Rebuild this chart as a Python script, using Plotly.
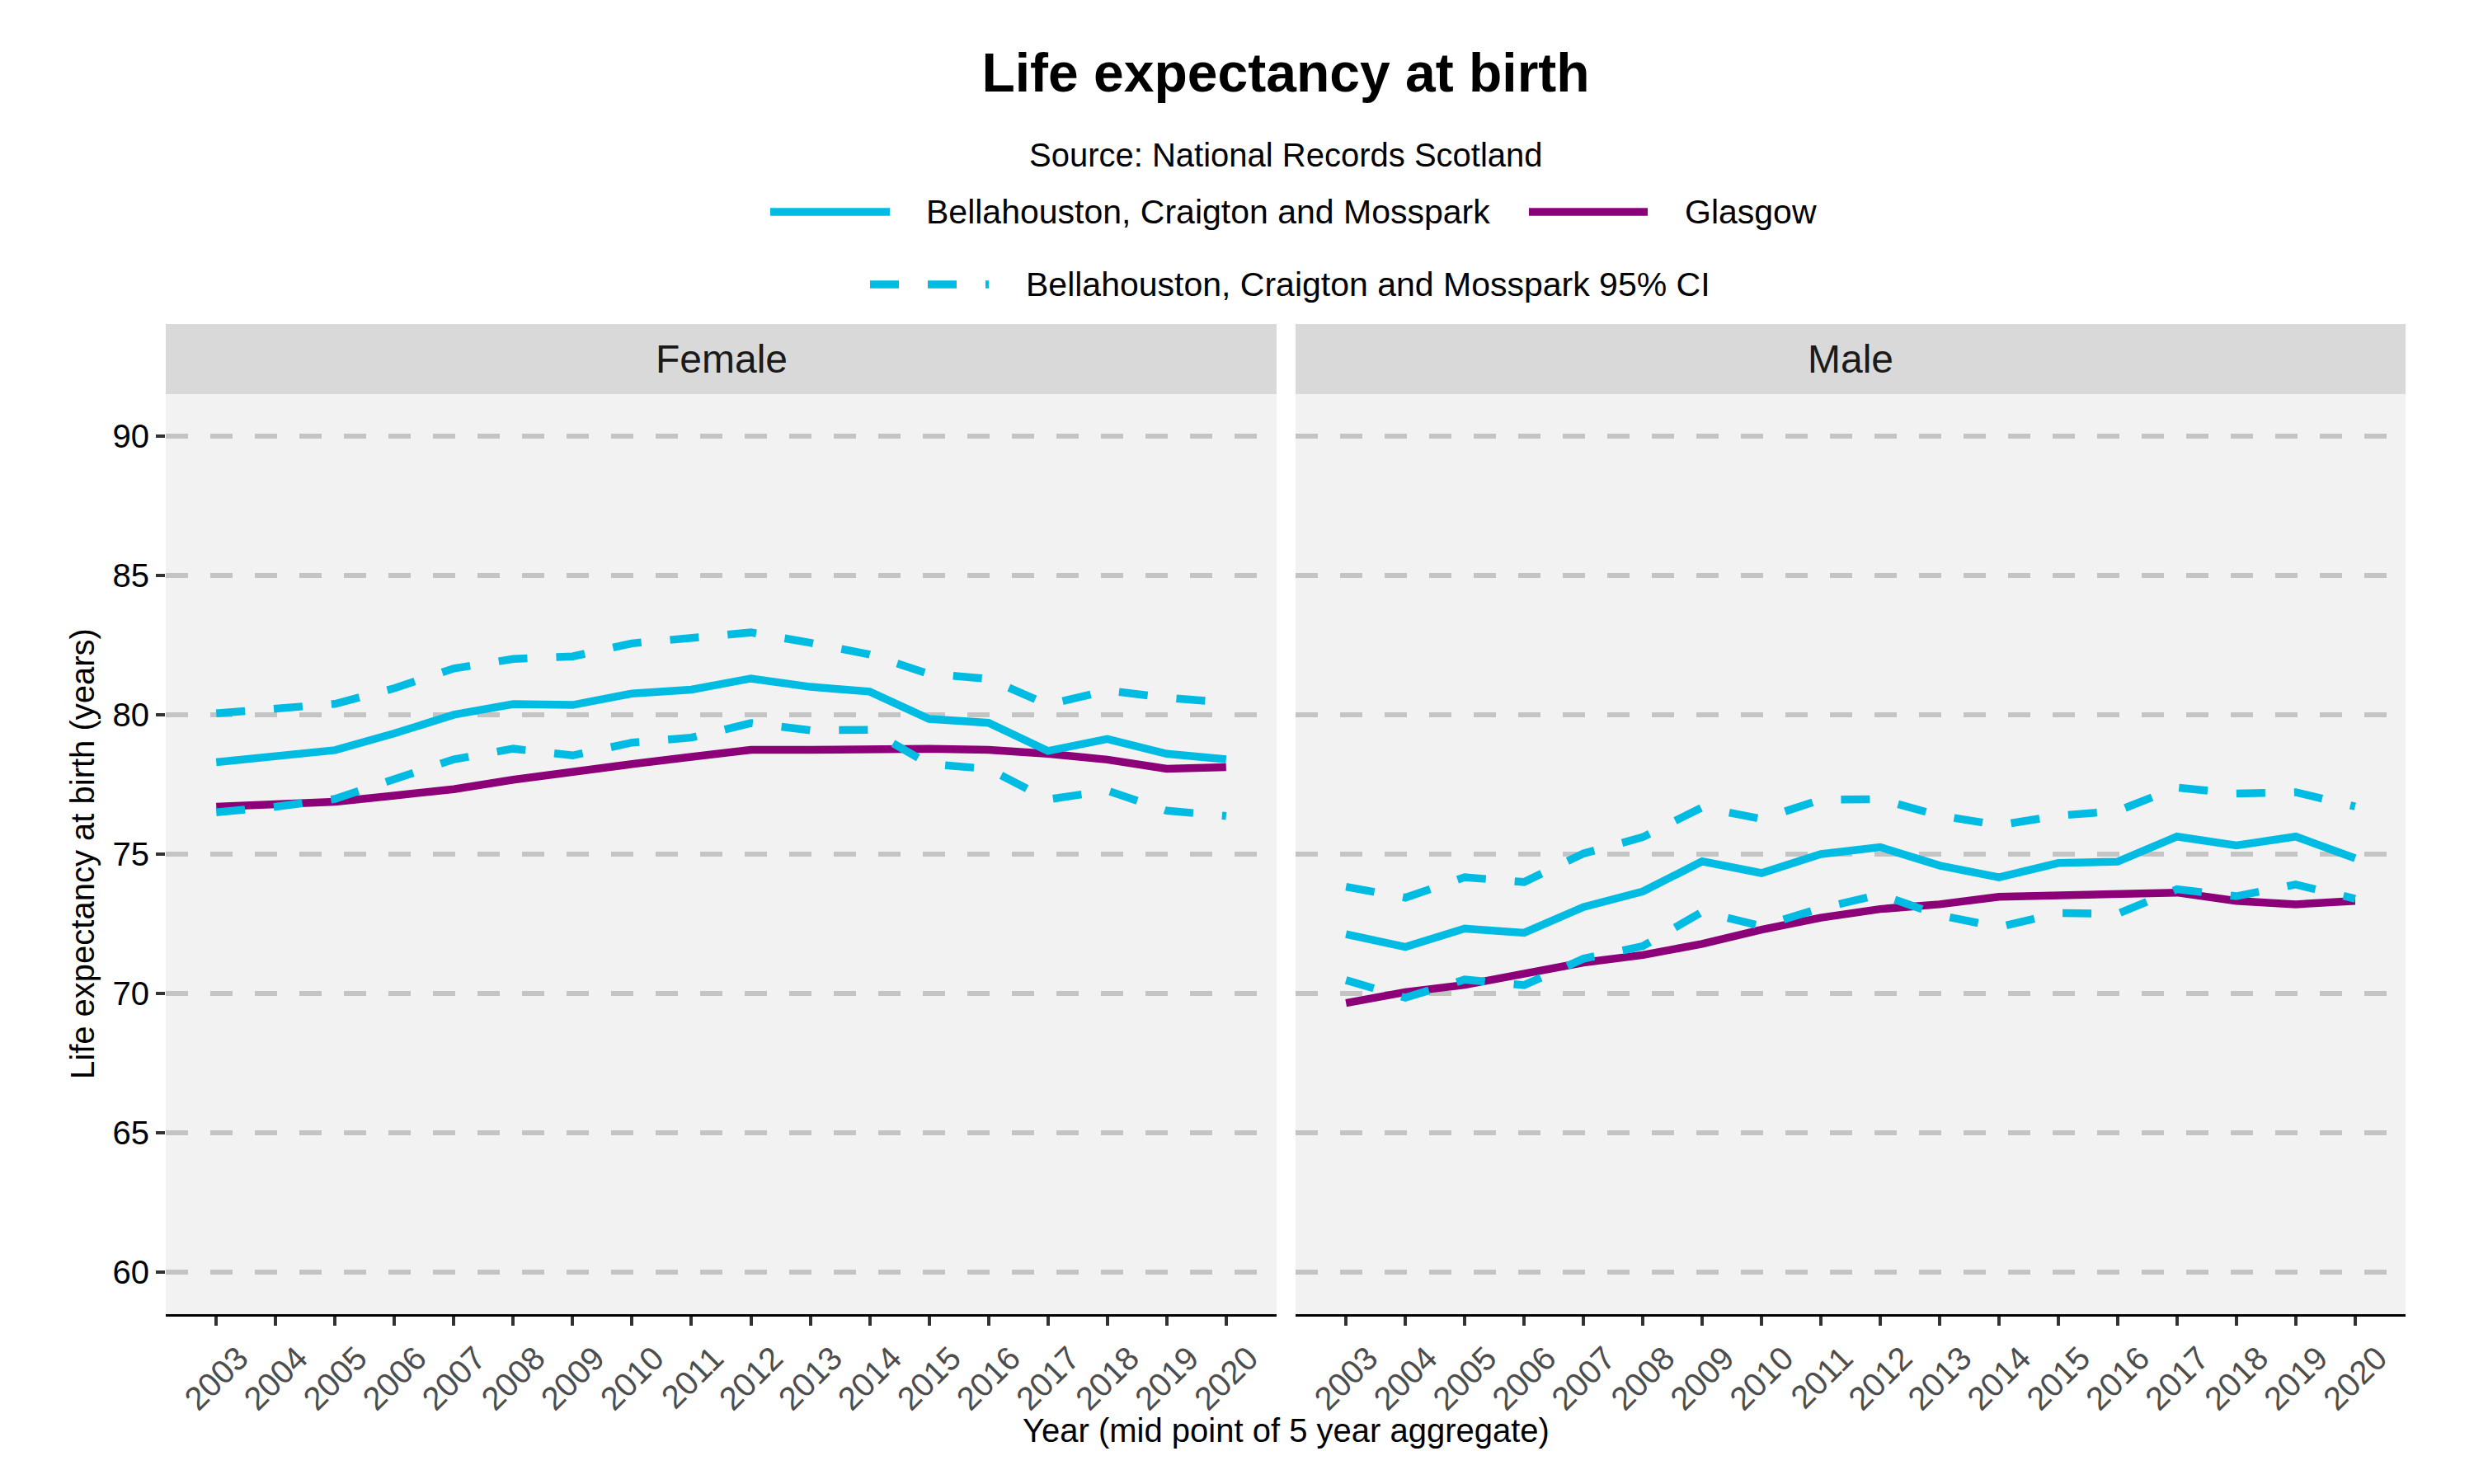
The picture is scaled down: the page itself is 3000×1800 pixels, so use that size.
import plotly.graph_objects as go
from plotly.subplots import make_subplots

# values (5 year aggregate mid points)
years = [2003, 2004, 2005, 2006, 2007, 2008, 2009, 2010, 2011,
         2012, 2013, 2014, 2015, 2016, 2017, 2018, 2019, 2020]

female_area = [78.3, 78.5, 78.73, 79.33, 80.0, 80.38, 80.35, 80.76, 80.9,
               81.3, 81.0, 80.83, 79.85, 79.71, 78.7, 79.13, 78.6, 78.4]
female_area_upper = [80.05, 80.2, 80.39, 80.95, 81.66, 82.0, 82.09, 82.56, 82.72,
                     82.95, 82.58, 82.16, 81.46, 81.29, 80.36, 80.87, 80.61, 80.44]
female_area_lower = [76.5, 76.7, 76.98, 77.72, 78.4, 78.78, 78.54, 79.0, 79.18,
                     79.7, 79.44, 79.46, 78.23, 78.06, 76.96, 77.28, 76.56, 76.37]
female_glasgow = [76.7, 76.76, 76.88, 77.1, 77.33, 77.67, 77.98, 78.23, 78.49,
                  78.74, 78.74, 78.79, 78.78, 78.74, 78.6, 78.39, 78.06, 78.12]

male_area = [72.13, 71.67, 72.33, 72.18, 73.1, 73.66, 74.74, 74.32, 75.0,
             75.25, 74.59, 74.17, 74.68, 74.73, 75.63, 75.31, 75.63, 74.85]
male_area_upper = [73.83, 73.44, 74.17, 74.0, 75.02, 75.61, 76.68, 76.26, 76.95,
                   76.97, 76.38, 76.04, 76.38, 76.55, 77.39, 77.17, 77.22, 76.71]
male_area_lower = [70.48, 69.85, 70.5, 70.3, 71.25, 71.7, 72.93, 72.42, 73.06,
                   73.55, 72.81, 72.38, 72.89, 72.86, 73.74, 73.49, 73.91, 73.4]
male_glasgow = [69.66, 70.05, 70.31, 70.68, 71.11, 71.38, 71.78, 72.29, 72.72,
                73.03, 73.2, 73.47, 73.52, 73.52, 73.62, 73.32, 73.2, 73.32]

y_ticks = [60, 65, 70, 75, 80, 85, 90]

AREA = "Bellahouston, Craigton and Mosspark"
CYAN = "#00BCE2"
PURPLE = "#8C0078"
FONT = "Liberation Sans"
LW = 9.5
CI_DASH = "35px,35px"

# the page body adds an 8px margin, so the figure is laid out 8px smaller
OFF = 8
W, H = 3000 - OFF, 1800 - OFF
L, R, T, B = 201 - OFF, 83, 478 - OFF, 206
PW, PH = W - L - R, H - T - B


def px_x(px):
    # page pixel -> paper x
    return (px - OFF - L) / PW


def px_y(py):
    # page pixel -> paper y
    return (H - B - (py - OFF)) / PH


fig = make_subplots(rows=1, cols=2, shared_yaxes=True)

panels = [
    (1, female_area, female_area_lower, female_area_upper, female_glasgow),
    (2, male_area, male_area_lower, male_area_upper, male_glasgow),
]
for col, area, lower, upper, glasgow in panels:
    fig.add_trace(go.Scatter(x=years, y=glasgow, mode="lines", name="Glasgow",
                             line=dict(color=PURPLE, width=LW), showlegend=False),
                  row=1, col=col)
    fig.add_trace(go.Scatter(x=years, y=area, mode="lines", name=AREA,
                             line=dict(color=CYAN, width=LW), showlegend=False),
                  row=1, col=col)
    for ci in (upper, lower):
        fig.add_trace(go.Scatter(x=years, y=ci, mode="lines", name=AREA + " 95% CI",
                                 line=dict(color=CYAN, width=LW, dash=CI_DASH),
                                 showlegend=False),
                      row=1, col=col)

fig.update_xaxes(
    range=[2002.15, 2020.85], tickvals=years, ticks="outside", ticklen=11,
    tickwidth=4, tickcolor="#333333", showline=True, linecolor="black",
    linewidth=3, showgrid=False, zeroline=False, tickangle=-45,
    ticklabelshift=27,
    tickfont=dict(size=40, color="#4d4d4d", family=FONT),
)
fig.update_layout(xaxis=dict(domain=[0, px_x(1548)]),
                  xaxis2=dict(domain=[px_x(1571), 1]))

fig.update_yaxes(
    range=[58.5, 91.5], tickvals=y_ticks, showgrid=True, gridcolor="#c4c4c4",
    gridwidth=6, griddash="27px,27px", zeroline=False, showline=False,
)
fig.update_yaxes(ticks="outside", ticklen=11, tickwidth=4, tickcolor="#333333",
                 tickfont=dict(size=40, color="black", family=FONT), row=1, col=1)
fig.update_yaxes(ticks="", showticklabels=False, row=1, col=2)

shapes = []
annotations = []

# facet strips
for ax, label in (("", "Female"), ("2", "Male")):
    shapes.append(dict(type="rect", xref=f"x{ax} domain", yref=f"y{ax} domain",
                       x0=0, x1=1, y0=1, y1=px_y(393), fillcolor="#d9d9d9",
                       line=dict(width=0), layer="below"))
    annotations.append(dict(text=label, xref=f"x{ax} domain", yref="paper",
                            x=0.5, y=px_y(435), xanchor="center", yanchor="middle",
                            showarrow=False,
                            font=dict(size=48, color="#1a1a1a", family=FONT)))

# legend drawn by hand so the keys can be as long as in the original
legend_rows = [
    (257, 934, 1079, 1121, CYAN, "solid", AREA),
    (257, 1854, 1998, 2041, PURPLE, "solid", "Glasgow"),
    (345, 1055, 1199, 1242, CYAN, CI_DASH, AREA + " 95% CI"),
]
for py, x0, x1, xt, color, dash, text in legend_rows:
    shapes.append(dict(type="line", xref="paper", yref="paper",
                       x0=px_x(x0), x1=px_x(x1), y0=px_y(py), y1=px_y(py),
                       line=dict(color=color, width=LW, dash=dash)))
    annotations.append(dict(text=text, xref="paper", yref="paper",
                            x=px_x(xt), y=px_y(py), xanchor="left", yanchor="middle",
                            showarrow=False,
                            font=dict(size=41, color="black", family=FONT)))

annotations.append(dict(text="Source: National Records Scotland", xref="paper",
                        yref="paper", x=0.5, y=px_y(188), xanchor="center",
                        yanchor="middle", showarrow=False,
                        font=dict(size=40, color="black", family=FONT)))
annotations.append(dict(text="Year (mid point of 5 year aggregate)", xref="paper",
                        yref="paper", x=0.5, y=px_y(1735), xanchor="center",
                        yanchor="middle", showarrow=False,
                        font=dict(size=40, color="black", family=FONT)))
annotations.append(dict(text="Life expectancy at birth (years)", xref="paper",
                        yref="paper", x=px_x(100), y=0.5, xanchor="center",
                        yanchor="middle", textangle=-90, showarrow=False,
                        font=dict(size=40, color="black", family=FONT)))

fig.update_layout(
    width=W, height=H,
    margin=dict(l=L, r=R, t=T, b=B, pad=0),
    paper_bgcolor="white", plot_bgcolor="#f2f2f2",
    font=dict(family=FONT, color="black"),
    title=dict(text="<b>Life expectancy at birth</b>", x=0.5, xref="paper",
               y=1 - (88 - OFF) / H, yref="container", xanchor="center",
               yanchor="middle",
               font=dict(size=66, color="black", family=FONT)),
    shapes=shapes, annotations=annotations, showlegend=False,
)

fig.write_html("out.html")
